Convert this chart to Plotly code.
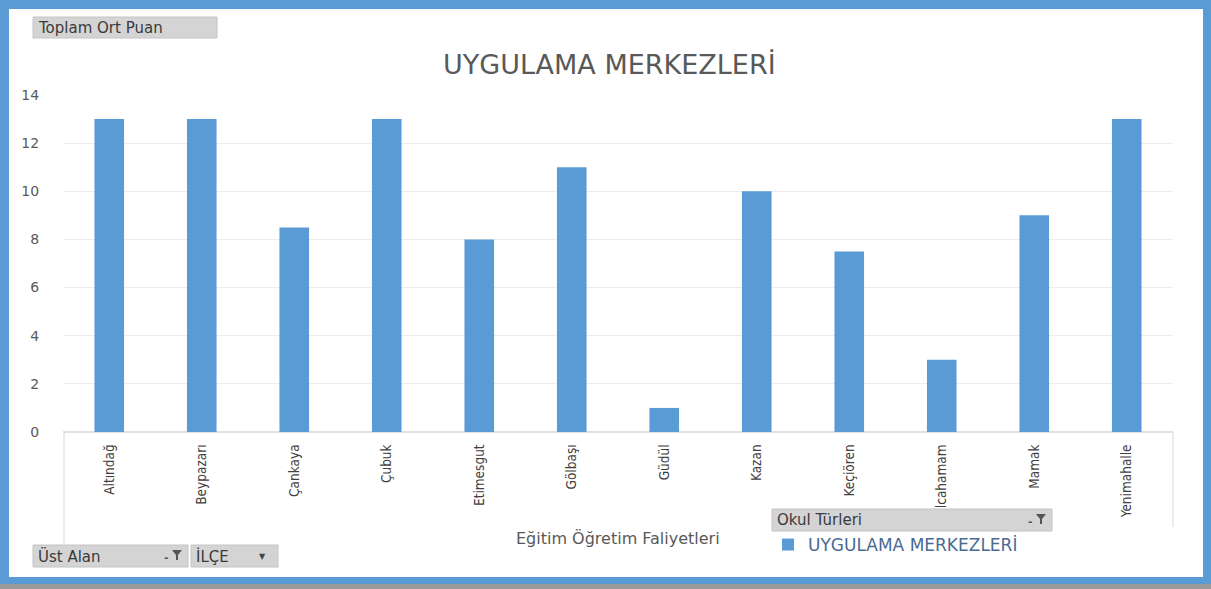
import plotly.graph_objects as go

ilceler = ['Altındağ', 'Beypazarı', 'Çankaya', 'Çubuk', 'Etimesgut', 'Gölbaşı',
           'Güdül', 'Kazan', 'Keçiören', 'Kızılcahamam', 'Mamak', 'Yenimahalle']
puanlar = [13, 13, 8.5, 13, 8, 11, 1, 10, 7.5, 3, 9, 13]
y_ticks = [0, 2, 4, 6, 8, 10, 12, 14]

W, H = 1211, 589
L, R, T, B = 63, 1173, 95, 432   # plot area in pixels
BLUE = '#5B9BD5'
GREY_TXT = '#595959'
WIDE = 'DejaVu Sans'


def px(x):
    return (x - L) / (R - L)


def py(y):
    return (B - y) / (B - T)


def funnel(xr, ym):
    # small filter glyph, right edge at xr, centred on ym (pixels)
    pts = [(xr - 11, ym - 5), (xr - 1, ym - 5), (xr - 5, ym), (xr - 5, ym + 5),
           (xr - 7, ym + 5), (xr - 7, ym)]
    d = 'M ' + ' L '.join(f'{px(a):.5f},{py(b):.5f}' for a, b in pts) + ' Z'
    return dict(type='path', xref='paper', yref='paper', layer='above', path=d,
                fillcolor='#555555', line=dict(width=0))


fig = go.Figure()
fig.add_trace(go.Bar(
    x=ilceler, y=puanlar, name='UYGULAMA MERKEZLERİ',
    marker=dict(color=BLUE, line=dict(width=0)),
))

shapes = []
# white inner panel on blue frame
shapes.append(dict(type='rect', xref='paper', yref='paper', layer='below',
                   x0=px(9), x1=px(1203), y0=py(9), y1=py(577),
                   fillcolor='white', line=dict(width=0)))
# grey shadow at the bottom
shapes.append(dict(type='rect', xref='paper', yref='paper', layer='below',
                   x0=px(0), x1=px(1211), y0=py(584), y1=py(589),
                   fillcolor='#9a9a9a', line=dict(width=0)))
# category axis side lines
shapes.append(dict(type='line', xref='paper', yref='paper',
                   x0=px(64), x1=px(64), y0=py(432), y1=py(543),
                   line=dict(color='#d9d9d9', width=1)))
shapes.append(dict(type='line', xref='paper', yref='paper',
                   x0=px(1173), x1=px(1173), y0=py(432), y1=py(527),
                   line=dict(color='#d9d9d9', width=1)))

# field buttons
buttons = [
    (33, 217, 17, 38, 'Toplam Ort Puan', None),
    (33, 188, 545, 567, 'Üst Alan', 'funnel'),
    (191, 278, 545, 567, 'İLÇE', 'arrow'),
    (772, 1052, 509, 531, 'Okul Türleri', 'funnel'),
]
annotations = []
for x0, x1, y0, y1, label, icon in buttons:
    ym = (y0 + y1) / 2
    shapes.append(dict(type='rect', xref='paper', yref='paper', layer='above',
                       x0=px(x0), x1=px(x1), y0=py(y0), y1=py(y1),
                       fillcolor='#d4d4d4', line=dict(color='#c4c4c4', width=1)))
    annotations.append(dict(xref='paper', yref='paper', x=px(x0 + 3), y=py(ym),
                            text=label, showarrow=False, xanchor='left', yanchor='middle',
                            font=dict(family=WIDE, size=15, color='#3a3a3a')))
    if icon == 'funnel':
        shapes.append(funnel(x1 - 5, ym - 1))
        annotations.append(dict(xref='paper', yref='paper', x=px(x1 - 17), y=py(ym + 1),
                                text='<b>-</b>', showarrow=False, xanchor='right',
                                yanchor='middle', font=dict(size=11, color='#555555')))
    elif icon == 'arrow':
        annotations.append(dict(xref='paper', yref='paper', x=px(x1 - 10), y=py(ym),
                                text='▼', showarrow=False, xanchor='right', yanchor='middle',
                                font=dict(size=8, color='#444444')))

annotations.append(dict(xref='paper', yref='paper', x=px(609), y=py(64),
                        text='UYGULAMA MERKEZLERİ', showarrow=False,
                        xanchor='center', yanchor='middle',
                        font=dict(family=WIDE, size=27, color=GREY_TXT)))
annotations.append(dict(xref='paper', yref='paper', x=px(618), y=py(538),
                        text='Eğitim Öğretim Faliyetleri', showarrow=False,
                        xanchor='center', yanchor='middle',
                        font=dict(family=WIDE, size=16, color=GREY_TXT)))

fig.update_layout(
    width=W, height=H,
    margin=dict(l=L, r=W - R, t=T, b=H - B),
    paper_bgcolor=BLUE, plot_bgcolor='white',
    bargap=0.68,
    showlegend=True,
    legend=dict(x=px(768), y=py(545), xanchor='left', yanchor='middle',
                bgcolor='rgba(0,0,0,0)',
                font=dict(family=WIDE, size=17, color='#4a6a94')),
    shapes=shapes, annotations=annotations,
    font=dict(family=WIDE),
)
fig.update_xaxes(tickangle=-90, showline=False, showgrid=False,
                 ticks='outside', ticklen=6, tickcolor='rgba(0,0,0,0)',
                 tickfont=dict(family='DejaVu Sans Condensed, Liberation Sans', size=13.5,
                               color='#404040'))
fig.update_yaxes(range=[0, 14], tickvals=y_ticks, showgrid=True, gridcolor='#ececec',
                 zeroline=True, zerolinecolor='#e0e0e0', showline=False,
                 ticks='outside', ticklen=20, tickcolor='rgba(0,0,0,0)',
                 tickfont=dict(family=WIDE, size=14, color=GREY_TXT))

# page body has a default margin; remove it so the figure fills the window
fig.write_html('out.html', config={'displayModeBar': False},
               post_script="document.body.style.margin='0';")
